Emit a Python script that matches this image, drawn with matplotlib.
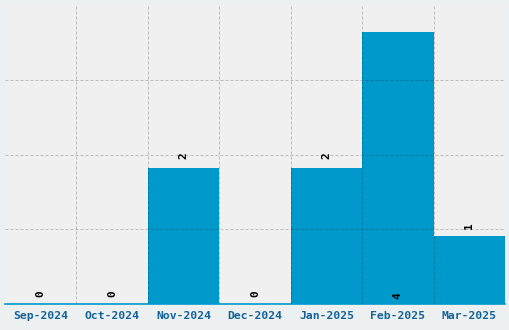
import matplotlib
matplotlib.use("Agg")
import matplotlib.pyplot as plt
import numpy as np

months = ['Sep-2024', 'Oct-2024', 'Nov-2024', 'Dec-2024', 'Jan-2025', 'Feb-2025', 'Mar-2025']
counts = [0, 0, 2, 0, 2, 4, 1]
# where each value label sits (data units); Feb label is drawn at the bottom
label_y = [0.16, 0.16, 2.18, 0.16, 2.18, 0.12, 1.16]

bar_col = '#0099cc'
fig = plt.figure(figsize=(5.1, 3.3), dpi=100, facecolor='#ecf0f1')
ax = fig.add_axes([5/510, 26/330, 500/510, 299/330])
ax.set_facecolor('#f0f0f0')

x = np.arange(len(months))
ax.bar(x, counts, width=1.0, color=bar_col, zorder=2)

for xi, v, ly in zip(x, counts, label_y):
    ax.text(xi, ly, str(v), rotation=90, ha='center', va='center',
            family='DejaVu Sans Mono', fontweight='bold', fontsize=8,
            color='black', zorder=4)

ax.set_xlim(-0.5, len(months) - 0.5)
ax.set_ylim(0, 4.4)
ax.set_xticks(x)
ax.set_xticklabels(months, family='DejaVu Sans Mono', fontweight='bold',
                   fontsize=8.2, color='#13639a')
ax.set_xticks(x[:-1] + 0.5, minor=True)
ax.set_yticks([1.1, 2.2, 3.3])
ax.set_yticklabels([])
ax.tick_params(axis='both', which='both', length=0, pad=5)

ax.grid(True, which='minor', axis='x', color='black', alpha=0.22,
        linestyle=(0, (3, 2)), linewidth=0.72, zorder=3)
ax.grid(True, which='major', axis='y', color='black', alpha=0.22,
        linestyle=(0, (3, 2)), linewidth=0.72, zorder=3)
ax.set_axisbelow(False)

for s in ['top', 'right', 'left']:
    ax.spines[s].set_visible(False)
ax.spines['bottom'].set_color(bar_col)
ax.spines['bottom'].set_linewidth(1.2)

plt.savefig('out.png', dpi=100, facecolor=fig.get_facecolor())
